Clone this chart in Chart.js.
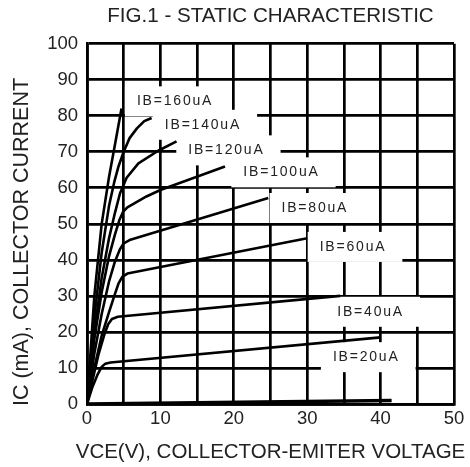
<!DOCTYPE html>
<html>
<head>
<meta charset="utf-8">
<script src="https://cdn.jsdelivr.net/npm/chart.js@4.4.1/dist/chart.umd.min.js"></script>
<style>
  body { margin: 0; background: #fff; }
  #wrap { width: 470px; height: 467px; }
</style>
</head>
<body>
<div id="wrap"><canvas id="chart" width="470" height="467"></canvas></div>
<script>
// Curve data: VCE in volts, IC in mA
const seriesNames = ['IB=160uA', 'IB=140uA', 'IB=120uA', 'IB=100uA', 'IB=80uA', 'IB=60uA', 'IB=40uA', 'IB=20uA', 'IB=0'];

const vce160 = [0, 1, 2, 3, 3.9, 4.7];
const ic160  = [0, 30, 50, 63, 73, 82];
const vce140 = [0, 1, 2, 3, 3.7, 4.3, 5, 5.8, 6.8, 7.8, 8.8];
const ic140  = [0, 24, 42, 55, 61.5, 66, 70, 73.8, 76.5, 78.5, 79.4];
const vce120 = [0, 1, 2, 3, 3.8, 4.5, 5.4, 7, 9.7, 12.2];
const ic120  = [0, 20, 35, 46, 53, 58.5, 62.8, 66.8, 70.3, 72.9];
const vce100 = [0, 1, 2, 3, 3.8, 4.4, 4.9, 5.5, 8.1, 10, 18.8];
const ic100  = [0, 18, 31, 41, 47, 51, 53.3, 54.6, 57.6, 59.4, 65.9];
const vce80  = [0, 1, 2, 3, 3.8, 4.5, 5.0, 5.8, 24.7];
const ic80   = [0, 14, 25, 34, 39.5, 43, 44.6, 45.5, 57.2];
const vce60  = [0, 1, 2, 3, 3.8, 4.3, 4.8, 5.5, 30];
const ic60   = [0, 10, 19, 25.5, 30.5, 33.5, 35.3, 36.2, 46];
const vce40  = [0, 0.8, 1.6, 2.4, 2.9, 3.4, 4.2, 34.5];
const ic40   = [0, 7, 14, 19.5, 22.2, 23.6, 24.2, 30];
const vce20  = [0, 0.7, 1.4, 2.0, 2.5, 3.2, 40];
const ic20   = [0, 4.5, 8, 10.3, 11.2, 11.5, 18.5];
const vce0   = [0, 41.5];
const ic0    = [0, 1];

const vceSets = [vce160, vce140, vce120, vce100, vce80, vce60, vce40, vce20, vce0];
const icSets  = [ic160, ic140, ic120, ic100, ic80, ic60, ic40, ic20, ic0];

// where each curve label sits (VCE, IC of the text's left/middle)
const labelVce = [6.8, 10.6, 13.8, 21.3, 26.5, 31.7, 34.1, 33.5];
const labelIc  = [84, 77.5, 70.4, 64.3, 54.4, 43.6, 25.6, 13];

const xTickValues = [0, 10, 20, 30, 40, 50];
const xTitle = 'VCE(V), COLLECTOR-EMITER VOLTAGE';
const yTitleText = 'IC (mA), COLLECTOR CURRENT';

const FONT = '"Liberation Sans", Arial, sans-serif';

const datasets = vceSets.map((xs, i) => ({
    label: seriesNames[i],
    data: xs.map((x, j) => ({ x: x, y: icSets[i][j] })),
    borderColor: '#000',
    borderWidth: i === vceSets.length - 1 ? 3.5 : 2.6,
    pointRadius: 0,
    tension: 0,
    borderJoinStyle: 'round',
    fill: false
}));

// white boxes with the IB labels, drawn over the grid
const curveLabels = {
    id: 'curveLabels',
    beforeDatasetsDraw(chart) {
        const ctx = chart.ctx;
        const xs = chart.scales.x, ys = chart.scales.y;
        ctx.save();
        ctx.font = '14px ' + FONT;
        ctx.letterSpacing = '1.8px';
        ctx.textBaseline = 'middle';
        labelVce.forEach((v, i) => {
            const px = xs.getPixelForValue(v);
            const py = ys.getPixelForValue(labelIc[i]);
            const w = ctx.measureText(seriesNames[i]).width;
            ctx.fillStyle = '#fff';
            ctx.fillRect(px - 12, py - 15, w + 28, 30);
            ctx.fillStyle = '#222';
            ctx.fillText(seriesNames[i], px, py);
        });
        ctx.restore();
    }
};

// axis titles drawn by hand (the scale title squeezes text to the axis width)
const axisTitles = {
    id: 'axisTitles',
    afterDraw(chart) {
        const ctx = chart.ctx;
        const area = chart.chartArea;
        ctx.save();
        ctx.fillStyle = '#222';
        ctx.textAlign = 'center';
        ctx.textBaseline = 'alphabetic';
        ctx.font = '20.5px ' + FONT;
        ctx.fillText(xTitle, (area.left + area.right) / 2, 458);
        ctx.translate(28, 242);
        ctx.rotate(-Math.PI / 2);
        ctx.font = '21.5px ' + FONT;
        ctx.fillText(yTitleText, 0, 0);
        ctx.restore();
    }
};

new Chart(document.getElementById('chart'), {
    type: 'line',
    data: { datasets: datasets },
    plugins: [curveLabels, axisTitles],
    options: {
        responsive: false,
        animation: false,
        layout: { padding: { left: 0, right: 16, top: 0, bottom: 0 } },
        plugins: {
            legend: { display: false },
            tooltip: { enabled: false },
            title: {
                display: true,
                text: 'FIG.1 - STATIC CHARACTERISTIC',
                fullSize: false,
                color: '#222',
                font: { family: FONT, size: 20.6, weight: 'normal' },
                padding: { top: 4, bottom: 15 }
            }
        },
        scales: {
            x: {
                type: 'linear',
                min: 0,
                max: 50,
                afterFit(scale) { scale.height = 63; },
                ticks: {
                    stepSize: 5,
                    color: '#222',
                    padding: 4,
                    font: { family: FONT, size: 18.5 },
                    callback: v => xTickValues.includes(v) ? String(v) : ''
                },
                grid: { color: '#000', lineWidth: 2.7, drawTicks: false },
                border: { color: '#000', width: 2.7 }
            },
            y: {
                min: 0,
                max: 100,
                afterFit(scale) { scale.width = 87; },
                ticks: {
                    stepSize: 10,
                    color: '#222',
                    padding: 9,
                    font: { family: FONT, size: 18.5 }
                },
                grid: { color: '#000', lineWidth: 2.7, drawTicks: false },
                border: { color: '#000', width: 2.7 }
            }
        }
    }
});
</script>
</body>
</html>
